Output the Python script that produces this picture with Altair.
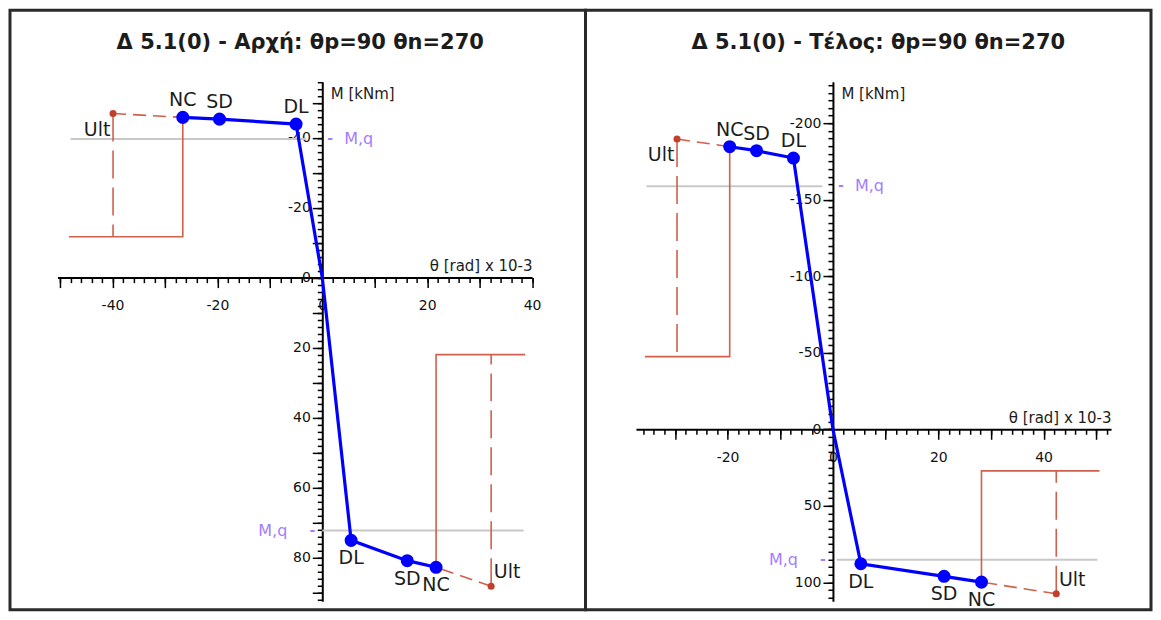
import altair as alt
import pandas as pd

FONT = "DejaVu Sans"
TXT = "#1c1c1c"
BLUE = "#0000ff"
RED = "#d0604c"
RED_DOT = "#c0402c"
GRAY = "#c8c8c8"
PURPLE = "#a57cff"

# ---------------- data: panel 1 (Αρχή) ----------------
p1_title = "Δ 5.1(0) - Αρχή: θp=90 θn=270"
p1_neg_theta = [-26.6, -19.6, -5.0]      # NC, SD, DL
p1_neg_M = [-45.8, -45.3, -43.9]
p1_pos_theta = [5.5, 16.2, 21.7]         # DL, SD, NC
p1_pos_M = [75.1, 80.9, 82.8]
p1_ult_theta = [-39.9, 32.2]             # neg, pos
p1_ult_M = [-46.9, 88.2]
p1_box_level = [-11.7, 22.0]
p1_box_end = [-48.3, 38.7]
p1_mq_M = [-39.6, 72.3]
p1_mq_from = [-48.0, 0.0]
p1_mq_to = [-3.0, 38.4]
p1_x_domain = [-50.5, 40]
p1_y_domain = [-56, 92.5]
p1_x_major = list(range(-50, 41, 10))
p1_x_minor = list(range(-50, 41, 2))
p1_y_major = list(range(-50, 91, 10))
p1_y_minor = list(range(-56, 93, 2))

# ---------------- data: panel 2 (Τέλος) ----------------
p2_title = "Δ 5.1(0) - Τέλος: θp=90 θn=270"
p2_neg_theta = [-19.6, -14.5, -7.5]
p2_neg_M = [-184.7, -182.1, -177.3]
p2_pos_theta = [5.3, 21.1, 28.2]
p2_pos_M = [87.9, 96.1, 99.9]
p2_ult_theta = [-29.6, 42.4]
p2_ult_M = [-189.7, 107.5]
p2_box_level = [-47.5, 27.2]
p2_box_end = [-35.7, 50.6]
p2_mq_M = [-158.8, 85.2]
p2_mq_from = [-35.4, 0.7]
p2_mq_to = [-2.0, 50.2]
p2_x_domain = [-37.4, 52.8]
p2_y_domain = [-227.2, 112.4]
p2_x_major = list(range(-30, 51, 10))
p2_x_minor = list(range(-36, 53, 2))
p2_y_major = list(range(-200, 101, 50))
p2_y_minor = list(range(-225, 111, 5))

neg_labels = ["NC", "SD", "DL"]
pos_labels = ["DL", "SD", "NC"]
x_title = "θ [rad] x 10-3"
y_title = "M [kNm]"
mq_text = "M,q"


def panel(title, neg_t, neg_m, pos_t, pos_m, ult_t, ult_m, box_lvl, box_end,
          mq_m, mq_from, mq_to, xd, yd, x_major, x_minor, y_major, y_minor,
          x_lab_step, y_lab_step, W, H, xr, yr, title_dx):
    px0 = xr[0] + (0 - xd[0]) / (xd[1] - xd[0]) * (xr[1] - xr[0])
    py0 = yr[0] + (0 - yd[0]) / (yd[1] - yd[0]) * (yr[1] - yr[0])

    xs = alt.Scale(domain=xd, range=xr, nice=False, zero=False)
    ys = alt.Scale(domain=yd, range=yr, nice=False, zero=False)

    common = dict(grid=False, tickColor="black", tickWidth=1.5, labelFont=FONT,
                  labelFontSize=14, labelColor="#111111", labelOverlap=False,
                  labelFlush=False, labelBound=False)
    x_major_axis = alt.Axis(
        values=x_major, orient="bottom", offset=-(H - py0), tickSize=10,
        domainColor="black", domainWidth=2,
        labelExpr=f"datum.value % {x_lab_step} === 0 ? '' + datum.value : ''",
        labelPadding=11,
        title=x_title, titleX=xr[1], titleY=-7, titleAlign="right", titleAngle=0,
        titleBaseline="alphabetic", titleFont=FONT, titleFontSize=15,
        titleFontWeight="normal", titleColor=TXT, **common)
    x_minor_axis = alt.Axis(
        values=x_minor, orient="bottom", offset=-(H - py0), tickSize=5,
        domain=False, labels=False, title=None, **common)
    y_major_axis = alt.Axis(
        values=y_major, orient="left", offset=-px0, tickSize=10,
        domainColor="black", domainWidth=2,
        labelExpr=f"datum.value % {y_lab_step} === 0 ? '' + datum.value : ''",
        labelPadding=2,
        title=y_title, titleX=8, titleY=yr[0] + 17, titleAlign="left", titleAngle=0,
        titleBaseline="alphabetic", titleFont=FONT, titleFontSize=15,
        titleFontWeight="normal", titleColor=TXT, **common)
    y_minor_axis = alt.Axis(
        values=y_minor, orient="left", offset=-px0, tickSize=5,
        domain=False, labels=False, title=None, **common)

    def X(f, axis=None):
        return alt.X(f, type="quantitative", scale=xs, axis=axis)

    def Y(f, axis=None):
        return alt.Y(f, type="quantitative", scale=ys, axis=axis)

    # tables
    mq = pd.DataFrame({"x": mq_from, "x2": mq_to, "y": mq_m, "side": ["neg", "pos"]})
    blue_line = pd.DataFrame({
        "x": neg_t + [0] + pos_t,
        "y": neg_m + [0] + pos_m,
        "o": list(range(len(neg_t) * 2 + 1)),
    })
    pts = pd.DataFrame({
        "x": neg_t + pos_t, "y": neg_m + pos_m,
        "lab": neg_labels + pos_labels,
        "side": ["neg"] * len(neg_t) + ["pos"] * len(pos_t),
    })
    nc_t = [neg_t[0], pos_t[-1]]
    nc_m = [neg_m[0], pos_m[-1]]
    red_path = pd.DataFrame({
        "x": [nc_t[0], nc_t[0], box_end[0], nc_t[1], nc_t[1], box_end[1]],
        "y": [nc_m[0], box_lvl[0], box_lvl[0], nc_m[1], box_lvl[1], box_lvl[1]],
        "b": ["neg"] * 3 + ["pos"] * 3,
        "o": [0, 1, 2, 0, 1, 2],
    })
    ult = pd.DataFrame({
        "x": ult_t, "y": ult_m, "lvl": box_lvl, "ncx": nc_t, "ncy": nc_m,
        "side": ["neg", "pos"], "lab": ["Ult", "Ult"],
    })

    layers = []
    layers.append(alt.Chart(mq).mark_rule(color=GRAY, strokeWidth=2).encode(
        x=X("x", x_major_axis), x2="x2", y=Y("y", y_major_axis)))
    layers.append(alt.Chart(red_path).mark_line(color=RED, strokeWidth=1.6).encode(
        x=X("x", x_minor_axis), y=Y("y", y_minor_axis), detail="b:N", order="o:Q"))
    layers.append(alt.Chart(ult).mark_rule(color=RED, strokeWidth=1.6, strokeDash=[28, 9]).encode(
        x=X("x"), y=Y("y"), y2="lvl"))
    layers.append(alt.Chart(ult).mark_rule(color=RED, strokeWidth=1.6, strokeDash=[13, 7]).encode(
        x=X("x"), y=Y("y"), x2="ncx", y2="ncy"))
    layers.append(alt.Chart(ult).mark_point(filled=True, shape="circle", size=50, opacity=1,
                                            color=RED_DOT).encode(x=X("x"), y=Y("y")))
    layers.append(alt.Chart(blue_line).mark_line(color=BLUE, strokeWidth=3.2).encode(
        x=X("x"), y=Y("y"), order="o:Q"))
    layers.append(alt.Chart(pts).mark_point(filled=True, shape="circle", size=170, opacity=1,
                                            color=BLUE).encode(x=X("x"), y=Y("y")))
    tstyle = dict(font=FONT, fontSize=19, color=TXT, baseline="middle")
    layers.append(alt.Chart(pts).transform_filter("datum.side == 'neg'").mark_text(
        align="center", dy=-17, **tstyle).encode(x=X("x"), y=Y("y"), text="lab:N"))
    layers.append(alt.Chart(pts).transform_filter("datum.side == 'pos'").mark_text(
        align="center", dy=18, **tstyle).encode(x=X("x"), y=Y("y"), text="lab:N"))
    layers.append(alt.Chart(ult).transform_filter("datum.side == 'neg'").mark_text(
        align="center", dx=-16, dy=16, **tstyle).encode(x=X("x"), y=Y("y"), text="lab:N"))
    layers.append(alt.Chart(ult).transform_filter("datum.side == 'pos'").mark_text(
        align="center", dx=16, dy=-14, **tstyle).encode(x=X("x"), y=Y("y"), text="lab:N"))
    # M,q markers
    mqstyle = dict(font=FONT, color=PURPLE, baseline="middle")
    layers.append(alt.Chart(mq).transform_filter("datum.side == 'neg'").transform_calculate(
        x0="0", t="'-'").mark_text(align="center", dx=8, fontSize=14, fontWeight="bold", **mqstyle).encode(
        x=X("x0:Q"), y=Y("y"), text="t:N"))
    layers.append(alt.Chart(mq).transform_filter("datum.side == 'neg'").transform_calculate(
        x0="0", t=f"'{mq_text}'").mark_text(align="left", dx=22, fontSize=16, **mqstyle).encode(
        x=X("x0:Q"), y=Y("y"), text="t:N"))
    layers.append(alt.Chart(mq).transform_filter("datum.side == 'pos'").transform_calculate(
        x0="0", t="'-'").mark_text(align="center", dx=-10, fontSize=14, fontWeight="bold", **mqstyle).encode(
        x=X("x0:Q"), y=Y("y"), text="t:N"))
    layers.append(alt.Chart(mq).transform_filter("datum.side == 'pos'").transform_calculate(
        x0="0", t=f"'{mq_text}'").mark_text(align="right", dx=-35, fontSize=16, **mqstyle).encode(
        x=X("x0:Q"), y=Y("y"), text="t:N"))

    return alt.layer(*layers).resolve_axis(x="independent", y="independent").properties(
        width=W, height=H,
        title=alt.TitleParams(title, font=FONT, fontSize=21, fontWeight="bold", color=TXT,
                              anchor="middle", frame="group", offset=-60,
                              baseline="alphabetic", dx=title_dx),
    )


H = 600
left = panel(p1_title, p1_neg_theta, p1_neg_M, p1_pos_theta, p1_pos_M, p1_ult_theta, p1_ult_M,
             p1_box_level, p1_box_end, p1_mq_M, p1_mq_from, p1_mq_to, p1_x_domain, p1_y_domain,
             p1_x_major, p1_x_minor, p1_y_major, p1_y_minor, 20, 20,
             576, H, [47.5, 522.5], [71.5, 591.5], 2.5)
right = panel(p2_title, p2_neg_theta, p2_neg_M, p2_pos_theta, p2_pos_M, p2_ult_theta, p2_ult_M,
              p2_box_level, p2_box_end, p2_mq_M, p2_mq_from, p2_mq_to, p2_x_domain, p2_y_domain,
              p2_x_major, p2_x_minor, p2_y_major, p2_y_minor, 20, 50,
              566, H, [50.5, 526.0], [71.5, 591.5], 10)

chart = alt.hconcat(left, right, spacing=0, bounds="flush").configure_view(
    stroke="#2a2a2a", strokeWidth=3
).properties(padding=0, background="white")

chart.save("out.html", embed_options={"renderer": "svg", "actions": False})
